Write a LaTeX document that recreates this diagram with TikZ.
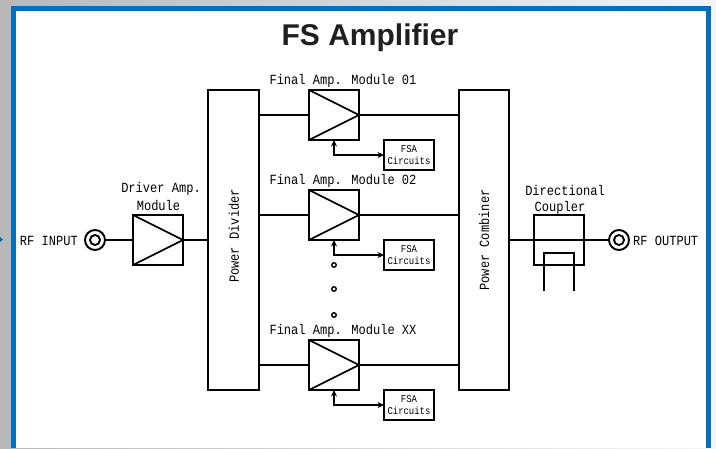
\documentclass[tikz,border=0pt]{standalone}
\usepackage{fontspec}
\usetikzlibrary{arrows.meta}
\setmainfont{Liberation Sans}
\newfontfamily\labfont[FakeStretch=0.86]{Liberation Mono}
\definecolor{framecol}{HTML}{0070BD}
\tikzset{
  modbox/.style={draw, line width=1.5pt, fill=white, minimum width=50pt, minimum height=50pt, inner sep=0pt, outer sep=0pt},
  tallbox/.style={modbox, minimum width=51pt, minimum height=300pt},
  fsabox/.style={modbox, minimum height=30pt, font=\labfont\fontsize{10.4}{12.5}\selectfont, align=center},
  lbl/.style={font=\labfont\fontsize{14}{17}\selectfont, align=center, inner sep=0pt},
  port/.style={circle, draw, line width=1.9pt, fill=white, minimum size=20pt, inner sep=0pt, outer sep=0pt},
  portin/.style={circle, draw, line width=1.9pt, minimum size=10pt, inner sep=0pt},
  dot/.style={circle, draw, line width=1.4pt, minimum size=4.5pt, inner sep=0pt}
}
\begin{document}
\begin{tikzpicture}[>={Stealth[length=6.5pt, width=6pt]}, x=1pt, y=-1pt]
  \useasboundingbox (0,0) rectangle (716,448);
  % backdrop and frame
  \shade[left color=black!28, right color=black!4] (0,0) rectangle (716,448);
  \fill[white] (13.5,8.5) rectangle (708.5,448);
  \draw[framecol, line width=5pt] (13.5,448) |- (708.5,8.5) -- (708.5,448);
  \fill[framecol] (0,237) -- (3,239.5) -- (0,242) -- cycle;
  \node[font=\bfseries\fontsize{30}{32}\selectfont, text=black!88, inner sep=0pt] (title) at (370,38) {FS Amplifier};
  % divider, combiner, driver
  \node[tallbox] (div) at (233.5,240) {};
  \node[tallbox, minimum width=50pt] (comb) at (484,240) {};
  \node[lbl, rotate=90] (divtxt) at (234,236) {Power Divider};
  \node[lbl, rotate=90] (combtxt) at (484,240) {Power Combiner};
  \node[modbox] (drv) at (158,240) {};
  \draw[line width=1.7pt] (drv.north west) -- (drv.east) -- (drv.south west);
  \node[lbl] (drvtxt) at (161,189) {Driver Amp.};
  \node[lbl] (drvtxtb) at (158.5,206) {Module};
  % input and output ports
  \node[port] (rfin) at (95,240) {};
  \node[portin] (rfinc) at (rfin) {};
  \node[lbl, anchor=east] (rfintxt) at (78,240.5) {RF INPUT};
  \node[port] (rfout) at (619,240) {};
  \node[portin] (rfoutc) at (rfout) {};
  \node[lbl, anchor=west] (rfouttxt) at (633,240.5) {RF OUTPUT};
  \draw[line width=1.4pt] (rfin) -- (drv);
  \draw[line width=1.4pt] (drv.east) -- (div.west |- drv.east);
  % final amp. modules
  \foreach \i/\y/\n in {1/115/01, 2/215/02, 3/365/XX} {
    \node[modbox] (amp\i) at (334,\y) {};
    \draw[line width=1.7pt] (amp\i.north west) -- (amp\i.east) -- (amp\i.south west);
    \node[lbl] (amptxt\i) at (343,\y-34) {Final Amp. Module \n};
    \node[fsabox] (fsa\i) at (409,\y+40) {FSA\\Circuits};
    \draw[line width=1.4pt] (div.east |- amp\i.west) -- (amp\i.west);
    \draw[line width=1.4pt] (amp\i.east) -- (comb.west |- amp\i.east);
    \draw[<->, line width=1.4pt] (amp\i.south) |- (fsa\i.west);
  }
  \foreach \y [count=\j] in {265, 289, 315} {
    \node[dot] (dot\j) at (334,\y) {};
  }
  % directional coupler
  \node[modbox, line width=1.2pt, fill=none] (coup) at (559,240) {};
  \node[lbl] (couptxt) at (565,190) {Directional};
  \node[lbl] (couptxtb) at (560,208) {Coupler};
  \draw[line width=1.4pt] (comb.east) -- (rfout.west);
  \coordinate (tapl) at (544,291);
  \coordinate (tapr) at (574,291);
  \draw[line width=1.3pt] (tapl) |- (559,253) -| (tapr);
\end{tikzpicture}
\end{document}
